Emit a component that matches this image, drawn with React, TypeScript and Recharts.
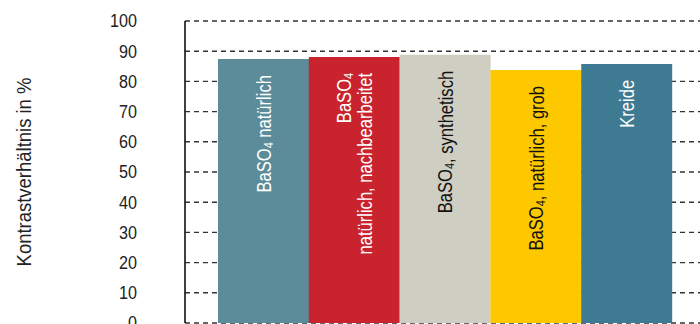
import { Bar, BarChart, CartesianGrid, Cell, LabelList, XAxis, YAxis, Label } from "recharts";

const categories = ["BaSO4 natürlich", "BaSO4 natürlich, nachbearbeitet", "BaSO4, synthetisch", "BaSO4, natürlich, grob", "Kreide"];
const values = [87.4, 88.1, 88.8, 83.8, 85.8];
const labelLines = [
  [["BaSO", "4", " natürlich"]],
  [["BaSO", "4", ""], ["natürlich, nachbearbeitet", "", ""]],
  [["BaSO", "4", ", synthetisch"]],
  [["BaSO", "4", ", natürlich, grob"]],
  [["Kreide", "", ""]],
];
const colors = ["#5c8b9a", "#c9232d", "#cfcec3", "#fec800", "#3e7b93"];
const textColors = ["#ffffff", "#ffffff", "#111111", "#111111", "#ffffff"];
const yTicks = [0, 10, 20, 30, 40, 50, 60, 70, 80, 90, 100];

const data = categories.map((name, i) => ({ name, value: values[i] }));

// no narrow font installed, so squeeze Liberation Sans horizontally
const FONT = "'Liberation Sans', Arial, sans-serif";
const squeeze = (x: number, y: number, s: number) => `translate(${x}, ${y}) scale(${s}, 1) translate(${-x}, ${-y})`;

function BarText(props: any) {
  const { x, y, width, index } = props;
  const cx = x + width / 2;
  const ty = y + 16;
  const lines = labelLines[index];
  const n = lines.length;
  return (
    <g transform={`rotate(-90, ${cx}, ${ty}) ${squeeze(cx, ty, 0.83)}`}>
      {lines.map((parts, i) => (
        <text
          key={i}
          x={cx}
          y={ty + (i - (n - 1) / 2) * 21}
          textAnchor="end"
          dominantBaseline="central"
          fill={textColors[index]}
          fontFamily={FONT}
          fontSize={20}
        >
          {parts[0]}
          {parts[1] && (
            <tspan fontSize={13} dy={5}>{parts[1]}</tspan>
          )}
          {parts[2] && <tspan dy={parts[1] ? -5 : 0}>{parts[2]}</tspan>}
        </text>
      ))}
    </g>
  );
}

function YTick(props: any) {
  const { x, y, payload } = props;
  return (
    <text x={x} y={y} transform={squeeze(x, y, 0.85)} textAnchor="end" dominantBaseline="central" fill="#222" fontSize={19} fontFamily={FONT}>
      {payload.value}
    </text>
  );
}

export default function App() {
  return (
    <div style={{ position: "absolute", left: 0, top: 0, width: 700, height: 324, overflow: "hidden", background: "#fff" }}>
      <BarChart width={700} height={340} data={data} margin={{ top: 21, right: 0, bottom: 17, left: 0 }} barCategoryGap={0}>
        <CartesianGrid vertical={false} stroke="#333" strokeWidth={1.4} strokeDasharray="5 4" />
        <XAxis dataKey="name" hide padding={{ left: 33, right: 28 }} />
        <YAxis
          width={185}
          domain={[0, 100]}
          ticks={yTicks}
          interval={0}
          tickLine={false}
          tickSize={0}
          tickMargin={48}
          axisLine={{ stroke: "#111", strokeWidth: 1.6 }}
          tick={YTick}
        >
          <Label
            content={(p: any) => {
              const vb = p.viewBox;
              const lx = 24;
              const ly = vb.y + vb.height / 2;
              return (
                <text x={lx} y={ly} transform={`rotate(-90, ${lx}, ${ly}) ${squeeze(lx, ly, 0.88)}`} textAnchor="middle" dominantBaseline="central" fill="#222" fontSize={21} fontFamily={FONT}>
                  Kontrastverhältnis in %
                </text>
              );
            }}
          />
        </YAxis>
        <Bar dataKey="value" isAnimationActive={false}>
          {data.map((d, i) => (
            <Cell key={d.name} fill={colors[i]} />
          ))}
          <LabelList dataKey="value" content={BarText} />
        </Bar>
      </BarChart>
    </div>
  );
}
